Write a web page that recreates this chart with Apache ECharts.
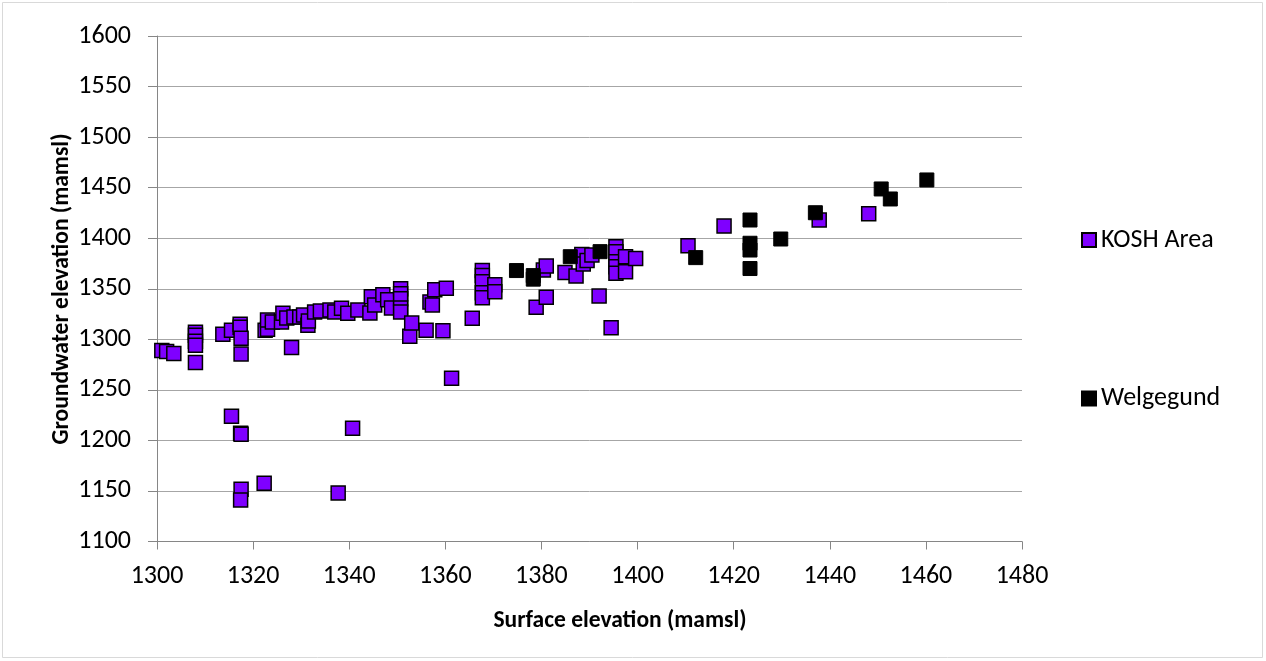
<!DOCTYPE html>
<html>
<head>
<meta charset="utf-8">
<script src="https://cdn.jsdelivr.net/npm/echarts@6/dist/echarts.min.js"></script>
<style>
html,body{margin:0;padding:0;background:#fff;}
#chart{width:1266px;height:661px;}
</style>
</head>
<body>
<div id="chart"></div>
<script>
// Surface elevation (x) vs groundwater elevation (y), mamsl
const koshArea = [
  [1301,1289],[1302,1288],[1303.5,1286],
  [1308,1307],[1308,1304],[1308,1298],[1308,1294],[1308,1277],
  [1313.7,1305],[1315.5,1309],[1315.5,1224],
  [1317.3,1315],[1317.3,1312],[1317.5,1301],[1317.5,1285.5],[1317.4,1207],[1317.5,1206],[1317.5,1151.6],[1317.4,1141],
  [1322.3,1157.6],[1322.5,1309],[1323,1310],[1323,1319],[1324,1317],
  [1325.9,1317],[1326.2,1325.7],[1327,1321],[1328,1292],[1328.5,1322],[1329.7,1322],[1330.5,1324],[1331.4,1314],[1331.5,1318],
  [1332.8,1327],[1334,1328],[1336,1329],[1337,1327],[1338.4,1330.7],[1337.7,1148],[1339.7,1325.7],[1340.7,1212],[1341.8,1329],
  [1344.3,1326],[1344.6,1342],[1345.3,1334],[1347,1344],[1348,1339],[1348.8,1331],
  [1350.7,1350],[1350.7,1345],[1350.7,1340],[1350.7,1331],[1350.7,1327],
  [1352.6,1303],[1353,1316],[1356,1309],[1356.8,1337],[1357.3,1334],[1357.8,1349],[1359.5,1308.5],[1360.2,1350.4],[1361.3,1261.4],[1365.6,1320.8],
  [1367.7,1368],[1367.7,1363],[1367.7,1357],[1367.7,1346],[1367.7,1341],[1370.3,1354],[1370.3,1347],
  [1378.9,1331.6],[1380.4,1368.5],[1381,1372.5],[1381,1341.5],[1384.9,1366],[1387.2,1362.6],[1388.4,1384],[1388.7,1374.5],
  [1389.5,1378],[1390.5,1383.4],[1392,1342.8],[1394.5,1311.5],
  [1395.5,1391.6],[1395.5,1386.7],[1395.5,1376.8],[1395.5,1371.8],[1395.5,1365.3],[1397.5,1381.7],[1397.5,1366.9],[1399.6,1380],
  [1410.5,1392.6],[1418,1412],[1437.8,1418],[1448.1,1424.3]
];
const welgegund = [
  [1374.8,1368],[1378.3,1363],[1378.3,1359.5],[1386,1381.7],[1392.2,1386.7],[1412.1,1380.8],
  [1423.4,1418],[1423.4,1395],[1423.4,1388.3],[1423.4,1370],[1429.8,1399.2],[1437,1425.2],
  [1450.7,1448.7],[1452.6,1438.8],[1460.2,1457.6]
];
const seriesNames = ['KOSH Area','Welgegund'];
const xTitle = 'Surface elevation (mamsl)';
const yTitle = 'Groundwater elevation (mamsl)';

const FONT = 'Carlito, Lato, "Open Sans", sans-serif';
const chart = echarts.init(document.getElementById('chart'), null, {renderer:'canvas'});
const axisGray = '#868686';
const gridGray = '#A6A6A6';
const legendText = {fontFamily:FONT, fontSize:26, color:'#000'};
chart.setOption({
  animation:false,
  backgroundColor:'#fff',
  grid:{left:157, right:244, top:36, bottom:119.5, containLabel:false},
  xAxis:{
    type:'value', min:1300, max:1480, interval:20,
    axisLine:{show:true, onZero:false, lineStyle:{color:axisGray, width:1}},
    axisTick:{show:true, length:8, lineStyle:{color:axisGray}},
    splitLine:{show:false},
    axisLabel:{margin:22, fontFamily:FONT, fontSize:26, color:'#000', formatter:v=>String(v)}
  },
  yAxis:{
    type:'value', min:1100, max:1600, interval:50,
    axisLine:{show:true, onZero:false, lineStyle:{color:axisGray, width:1}},
    axisTick:{show:true, length:9, lineStyle:{color:axisGray}},
    splitLine:{show:true, lineStyle:{color:gridGray, width:1}},
    axisLabel:{margin:26, fontFamily:FONT, fontSize:26, color:'#000', formatter:v=>String(v)}
  },
  legend:[
    {orient:'vertical', left:1076, top:222, itemWidth:14, itemHeight:14, itemGap:0, textStyle:legendText,
     data:[{name:seriesNames[0], icon:'rect'}]},
    {orient:'vertical', left:1076, top:380.5, itemWidth:14, itemHeight:14, itemGap:0, textStyle:legendText,
     data:[{name:seriesNames[1], icon:'rect'}]}
  ],
  graphic:[
    {type:'rect', shape:{x:2.5, y:2.5, width:1260, height:655}, style:{fill:null, stroke:'#D9D9D9', lineWidth:1}, silent:true, z:-10},
    {type:'text', x:620, y:621, style:{text:xTitle, font:'bold 23.5px '+FONT, fill:'#000', align:'center', verticalAlign:'middle'}},
    {type:'text', x:62, y:289, rotation:Math.PI/2, style:{text:yTitle, font:'bold 23.5px '+FONT, fill:'#000', align:'center', verticalAlign:'middle'}}
  ],
  series:[
    {name:seriesNames[0], type:'scatter', symbol:'rect', symbolSize:14, data:koshArea, z:2,
     itemStyle:{color:'#7F00FF', borderColor:'#000', borderWidth:1.5, opacity:1}},
    {name:seriesNames[1], type:'scatter', symbol:'rect', symbolSize:14, data:welgegund, z:3,
     itemStyle:{color:'#000', borderColor:'#000', borderWidth:1, opacity:1}}
  ]
});
</script>
</body>
</html>
